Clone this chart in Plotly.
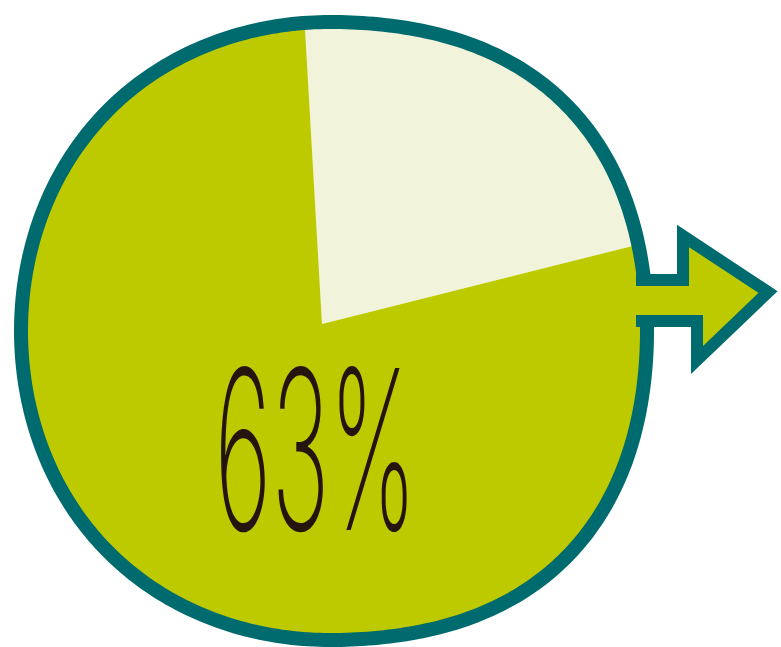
import numpy as np
import plotly.graph_objects as go

# data
slice_labels = ["Remaining", "Share"]
slice_values = [22, 78]
slice_colors = ["#F1F4DA", "#BDCA00"]
center_label = "63%"

W, H = 781, 647
GREEN = "#BDCA00"
TEAL = "#006B6E"

# pie geometry (pixels, y downward)
vx, vy = 322, 324          # wedge vertex
R_big = 380                # wedges are clipped by the outline mask
start_deg = -3.3           # first slice starts just left of 12 o'clock, clockwise

fig = go.Figure()

total = float(sum(slice_values))
a = start_deg
for lab, val, col in zip(slice_labels, slice_values, slice_colors):
    span = val / total * 360.0
    th = np.radians(np.linspace(a, a + span, 120))
    xs = np.concatenate([[vx], vx + R_big * np.sin(th), [vx]])
    ys = np.concatenate([[vy], vy - R_big * np.cos(th), [vy]])
    fig.add_trace(go.Scatter(x=xs, y=ys, fill="toself", fillcolor=col, mode="none",
                             name=lab, hoverinfo="name", showlegend=False))
    a += span

# hand-drawn-like outline: slightly fuller on the right-hand side
ring = 14
ccx, ccy = 330, 331
t = np.radians(np.arange(0, 360, 1.0))
s = np.sin(t)
r_outer = np.where(s > 0,
                   316 + 8 * np.sin(t) ** 2 + 14 * np.sin(2 * t) ** 2,
                   316 + 4 * np.sin(2 * t) ** 2)
r_mid = r_outer - ring / 2
mx = ccx + r_mid * np.sin(t)
my = ccy - r_mid * np.cos(t)

def poly(xs, ys):
    return "M " + " L ".join(f"{x:.2f},{y:.2f}" for x, y in zip(xs, ys)) + " Z"

outline_path = poly(mx, my)
mask_path = "M -60,-60 L 841,-60 L 841,707 L -60,707 Z " + poly(mx[::-1], my[::-1])

arrow_pts = [(636, 280), (683, 280), (683, 236), (768, 292), (697, 360), (697, 321), (636, 321)]
arrow_path = "M " + " L ".join(f"{x},{y}" for x, y in arrow_pts)

shapes = [
    dict(type="path", xref="x", yref="y", path=mask_path, fillcolor="white",
         line=dict(width=0), layer="above"),
    dict(type="path", xref="x", yref="y", path=outline_path, fillcolor="rgba(0,0,0,0)",
         line=dict(color=TEAL, width=ring), layer="above"),
    dict(type="path", xref="x", yref="y", path=arrow_path, fillcolor=GREEN,
         line=dict(color=TEAL, width=12), layer="above"),
]

fig.update_layout(
    width=W, height=H,
    margin=dict(l=0, r=0, t=0, b=0),
    paper_bgcolor="white", plot_bgcolor="white",
    xaxis=dict(range=[0, W], visible=False, fixedrange=True),
    yaxis=dict(range=[H, 0], visible=False, fixedrange=True),
    shapes=shapes,
    annotations=[dict(text=center_label, xref="x", yref="y",
                      x=315, y=449, xanchor="center", yanchor="middle",
                      showarrow=False,
                      font=dict(family="Inter, Roboto, sans-serif",
                                size=222, color="#24140E", weight=200))],
)

post = """
document.body.style.margin = '0';
document.querySelectorAll('.annotation-text').forEach(function(t){
  t.style.transformBox = 'fill-box';
  t.style.transformOrigin = 'center';
  t.style.transform = 'scaleX(0.44)';
});
"""
fig.write_html("out.html", post_script=post, config={"displayModeBar": False})
